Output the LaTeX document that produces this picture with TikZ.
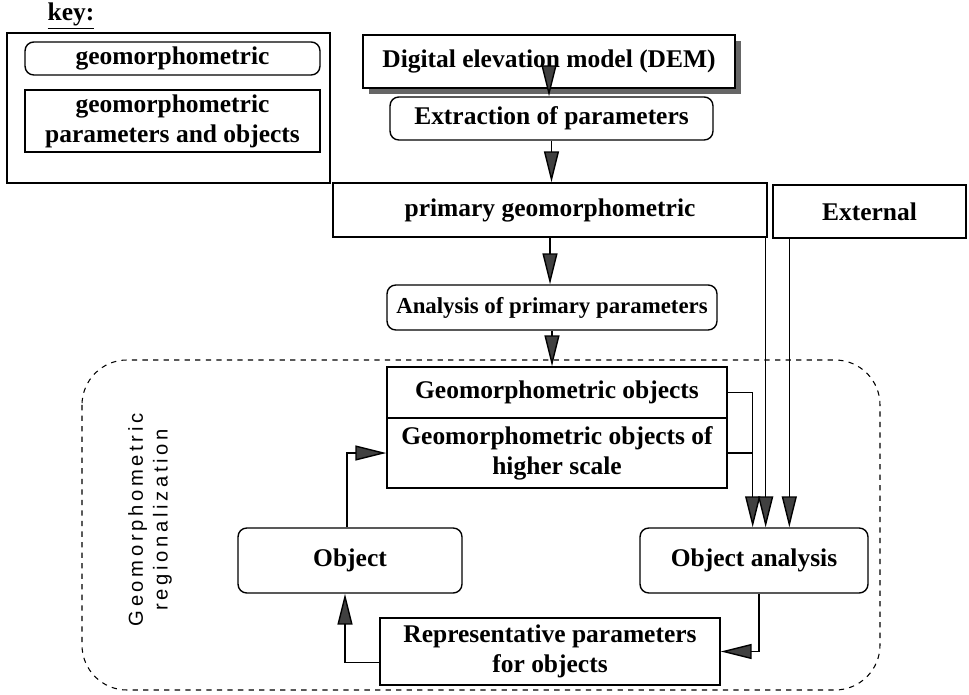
\documentclass[tikz,border=0pt]{standalone}
\usepackage{fontspec}
\setmainfont{Liberation Serif}
\newfontfamily\regfont[LetterSpace=18]{Liberation Sans}
\usetikzlibrary{arrows.meta,shadows}

\begin{document}
\begin{tikzpicture}[x=0.02cm,y=-0.02cm,
	font=\fontsize{14.5}{17}\selectfont\bfseries,
	box/.style={draw,line width=0.8pt,inner sep=0pt,align=center},
	rbox/.style={box,rounded corners=5pt},
	arr/.style={-{Triangle[width=0.3cm,length=0.62cm,fill=black!75]},line width=0.8pt}]
	\useasboundingbox (0,0) rectangle (969,695);
	% key
	\node[inner sep=1pt] (keyttl) at (71,16) {\underline{key:}};
	\node[box,minimum width=6.46cm,minimum height=3cm] (keybox) at (168.5,108) {};
	\node[rbox,minimum width=5.9cm,minimum height=0.66cm] (keyrnd) at (172.5,58.5) {geomorphometric};
	\node[box,minimum width=5.9cm,minimum height=1.24cm] (keyrect) at (172.5,121) {geomorphometric\\parameters and objects};
	% flow
	\node[box,fill=white,minimum width=7.44cm,minimum height=1.06cm,
		drop shadow={shadow xshift=0.12cm,shadow yshift=-0.12cm,fill=black!60,opacity=1}] (dem) at (549,61.5) {Digital elevation model (DEM)};
	\node[rbox,minimum width=6.46cm,minimum height=0.86cm] (ext) at (551.5,118.5) {Extraction of parameters};
	\node[box,minimum width=8.68cm,minimum height=1.08cm] (prim) at (550,210) {primary geomorphometric};
	\node[box,minimum width=3.86cm,minimum height=1.06cm] (extl) at (869.5,211.5) {External};
	\node[rbox,minimum width=6.6cm,minimum height=0.9cm,font=\fontsize{13}{16}\selectfont\bfseries] (anal) at (552,307.5) {Analysis of primary parameters};
	% regionalization
	\draw[dashed,line width=0.6pt,rounded corners=0.9cm] (82,360) rectangle (880,690);
	\node[rotate=90,font=\fontsize{11.5}{14}\regfont,align=center] (reglbl) at (150,520) {Geomorphometric\\regionalization};
	\node[box,minimum width=6.8cm,minimum height=1.02cm] (geoa) at (557,392.5) {Geomorphometric objects};
	\node[box,minimum width=6.8cm,minimum height=1.4cm] (geob) at (557,453) {Geomorphometric objects of\\higher scale};
	\node[rbox,minimum width=4.48cm,minimum height=1.3cm] (obj) at (350,560.5) {Object};
	\node[rbox,minimum width=4.56cm,minimum height=1.3cm] (oban) at (754,560.5) {Object analysis};
	\node[box,minimum width=6.8cm,minimum height=1.34cm] (rep) at (550,651.5) {Representative parameters\\for objects};
	% connectors
	\draw[arr] (dem.center) -- (dem.center |- ext.north);
	\draw[arr] (ext.south) -- (ext.south |- prim.north);
	\draw[arr] (prim.south) -- (prim.south |- anal.north);
	\draw[arr] (anal.south) -- (anal.south |- geoa.north);
	\draw[line width=0.8pt] (geoa.east) -- ++(25,0) coordinate (jn);
	\draw[line width=0.8pt] (geob.east) -- (geob.east -| jn);
	\draw[arr] (jn) -- (jn |- oban.north);
	\draw[arr] ([xshift=-0.04cm]prim.south east) -- ([xshift=-0.04cm]prim.south east |- oban.north);
	\draw[arr] ([xshift=0.34cm]extl.south west) -- ([xshift=0.34cm]extl.south west |- oban.north);
	\draw[arr] ([xshift=0.1cm]oban.south) |- (rep.east);
	\draw[arr] ([yshift=-0.22cm]rep.west) -| ([xshift=-0.1cm]obj.south);
	\draw[arr] ([xshift=-0.06cm]obj.north) |- (geob.west);
\end{tikzpicture}
\end{document}
